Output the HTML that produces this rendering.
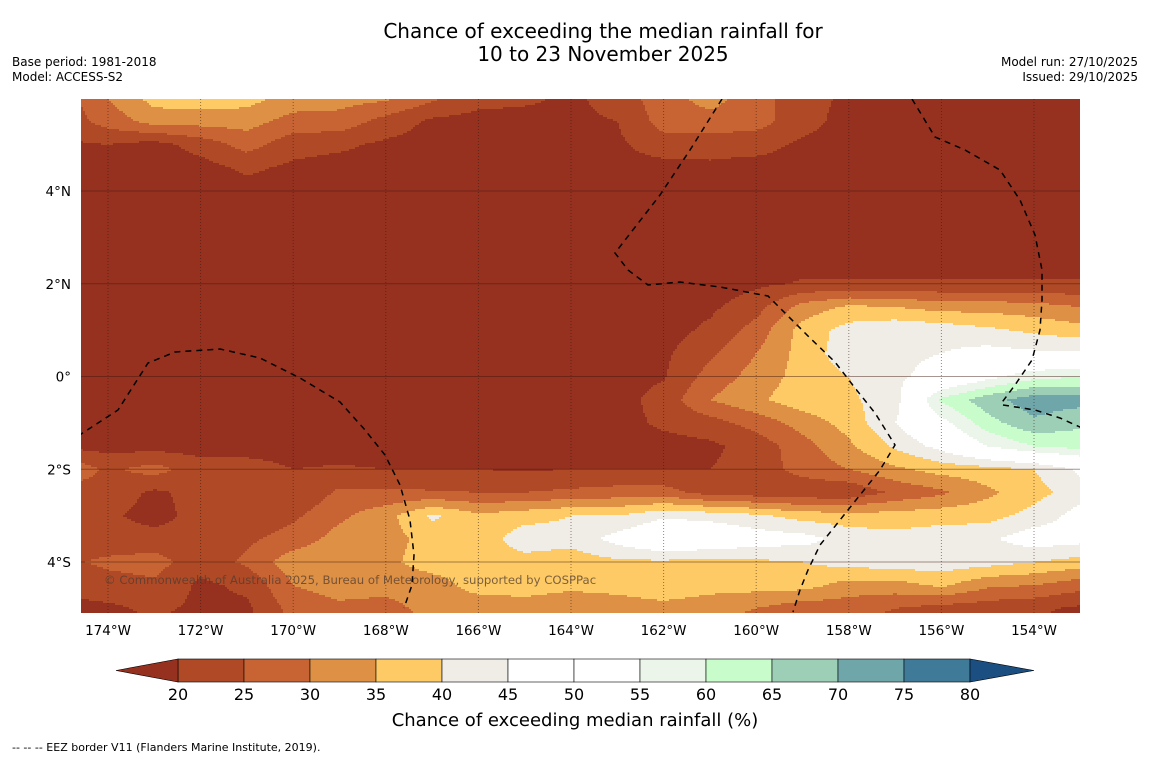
<!DOCTYPE html>
<html><head><meta charset="utf-8"><style>
body{margin:0;background:#fff;font-family:"DejaVu Sans",sans-serif;}
svg text{font-family:"DejaVu Sans","Liberation Sans",sans-serif;}
</style></head><body>
<svg id="chart" width="1150" height="758" viewBox="0 0 1150 758" xmlns="http://www.w3.org/2000/svg">
<rect width="1150" height="758" fill="#fff"/>
<text x="603" y="38" font-size="20" text-anchor="middle">Chance of exceeding the median rainfall for</text>
<text x="603" y="61" font-size="20" text-anchor="middle">10 to 23 November 2025</text>
<text x="12" y="66" font-size="12">Base period: 1981-2018</text>
<text x="12" y="81" font-size="12">Model: ACCESS-S2</text>
<text x="1138" y="66" font-size="12" text-anchor="end">Model run: 27/10/2025</text>
<text x="1138" y="81" font-size="12" text-anchor="end">Issued: 29/10/2025</text>
<defs><clipPath id="plotclip"><rect x="81" y="99" width="999" height="514"/></clipPath></defs>
<g id="field" clip-path="url(#plotclip)"></g>
<g id="grid" clip-path="url(#plotclip)"></g>
<g clip-path="url(#plotclip)" fill="none" stroke="#000" stroke-width="1.5" stroke-dasharray="6,5">
<polyline points="78,436 118,410 148,363 175,352 220,349 260,358 300,378 340,402 365,430 385,455 400,485 410,520 414,555 412,585 404,608"/>
<polyline points="722,99 690,150 660,195 615,253 628,270 648,285 680,282 720,287 768,296 785,313 810,338 835,362 855,388 875,413 895,445 880,470 860,495 840,520 820,545 808,570 800,590 793,612"/>
<polyline points="912,99 935,137 965,150 1000,170 1020,200 1035,235 1042,270 1042,300 1040,330 1032,360 1015,385 1000,405"/>
<polyline points="1003,405 1035,410 1060,418 1082,428"/>
</g>
<text x="104" y="584" font-size="11.7" fill="rgba(80,60,50,0.75)">© Commonwealth of Australia 2025, Bureau of Meteorology, supported by COSPPac</text>
<g id="axes"></g>
<g id="cbar"></g>
<text x="575" y="726" font-size="18" text-anchor="middle">Chance of exceeding median rainfall (%)</text>
<text x="12" y="751" font-size="11">--  --  -- EEZ border V11 (Flanders Marine Institute, 2019).</text>
</svg>
<script>
const lons = [-175,-174,-173,-172,-171,-170,-169,-168,-167,-166,-165,-164,-163,-162,-161,-160,-159,-158,-157,-156,-155,-154,-153];
const lats = [6,5.5,5,4.5,4,3.5,3,2.5,2,1.5,1,0.5,0,-0.5,-1,-1.5,-2,-2.5,-3,-3.5,-4,-4.5,-5,-5.5];
const values = [
[22,30,37,38,37,33,32,31,26,22,21,19,22,28,32,27,22,19,18,18,18,18,18],
[22,27,32,32,32,28,28,23,19,18,18,19,20,27,28,27,22,18,18,18,18,18,18],
[19,20,18,22,27,22,21,19,18,18,18,18,19,23,22,22,19,18,18,18,18,18,18],
[18,18,18,18,21,19,18,18,18,18,18,18,18,18,19,18,18,18,18,18,18,18,18],
[18,18,18,18,18,18,18,18,18,18,18,18,18,18,18,18,18,18,18,18,18,18,18],
[18,18,18,18,18,18,18,18,18,18,18,18,18,18,18,18,18,18,18,18,18,18,18],
[18,18,18,18,18,18,18,18,18,18,18,18,18,18,18,18,18,18,18,18,18,18,18],
[18,18,18,18,18,18,18,18,18,18,18,18,18,18,18,18,18,18,18,18,18,18,18],
[18,18,18,18,18,18,18,18,18,18,18,18,18,18,17,19,20.5,20.5,20.5,20.5,20.5,20.5,20.5],
[18,18,18,18,18,18,18,18,18,18,18,18,18,18,19,23,32,36,35,33,33,32,30],
[18,18,18,18,18,18,18,18,18,18,18,18,18,18,21,27,37,42,44,43,41,39,37],
[18,18,18,18,18,18,18,18,18,18,18,18,18,19,24,30,37,43,44,45,47,46,46],
[18,18,18,18,18,18,18,18,18,18,18,18,18,19.5,27,32,37,40,44,47,53,58,60],
[18,18,18,18,18,18,18,18,18,18,18,18,18,22,30,34,38,39,43,61,68,73,72],
[18,18,18,18,18,18,18,18,18,18,18,18,18,21,23,27,32,37,45,53,63,69,66],
[19,18,18,18,18,18,18,18,18,18,18,18,18,18,19,22,28,34,41,47,55,60,62],
[30,24,27,22,22,20,20.5,20,20,20,19.5,20,20,20,20,22,27,30,34,37,38,40,46],
[22,23,19,22,22,20,26,26,25.5,25,25,26,27,27,23,22,21,21,26,29,34,38,43],
[22,21,18,22,22,24,29,33,41,36,38,40,40,44,43,41,38,37,37,38,38,42,47],
[22,22,22,22,24,27,32,33,37,37,43,42,47,52,51,48,47,43,42,43,44,48,47],
[24,26,27,22,26,33,34,34,37,37,38,37,39,39,38,39,40,42,43,43,42,40,38],
[20,23,24,19,21,30,32,32,33,37,37,36,37,39,37,37,37,33,33,36,31,30,27],
[19,19,21,19,19,27,29,28,32,32,33,32,32,33,32,30,27,27,25,23,22,21,19],
[18,18,19,18,18,25,27,26,29,30,30,30,30,30,29,27,25,24,22,21,20,19,18]
];
const levels = [20,25,30,35,40,45,50,55,60,65,70,75,80];
const levelColors = ['#963120','#B04A26','#C86434','#DE9145','#FDCA65','#F0ECE6','#FFFFFF','#FFFFFF','#EBF5EA','#C8FCCA','#9DCFB7','#6FA6A9','#3F7A99','#1B4F82'];
const lonTicks = [-174,-172,-170,-168,-166,-164,-162,-160,-158,-156,-154];
const latTicks = [4,2,0,-2,-4];
const latTickLabels = ['4°N','2°N','0°','2°S','4°S'];

const NS='http://www.w3.org/2000/svg';
function xOf(lon){return 108+(lon+174)*46.3;}
function yOf(lat){return 376.5-lat*46.375;}
function lonOf(x){return -174+(x-108)/46.3;}
function latOf(y){return (376.5-y)/46.375;}
function classOf(v){let k=0;while(k<levels.length&&v>=levels[k])k++;return k;}
function sample(lon,lat){
  let fi=(lon-lons[0])/(lons[1]-lons[0]);
  let fj=(lat-lats[0])/(lats[1]-lats[0]);
  fi=Math.max(0,Math.min(lons.length-1.0001,fi));
  fj=Math.max(0,Math.min(lats.length-1.0001,fj));
  const i=Math.floor(fi),j=Math.floor(fj),a=fi-i,b=fj-j;
  const v00=values[j][i],v01=values[j][i+1],v10=values[j+1][i],v11=values[j+1][i+1];
  return (v00*(1-a)+v01*a)*(1-b)+(v10*(1-a)+v11*a)*b;
}
const field=document.getElementById('field');
const step=2;
for(let y=99;y<613;y+=step){
  const lat=latOf(y+step/2);
  let runStart=81,runCls=null;
  for(let x=81;x<=1081;x+=step){
    const cls = x<1081 ? classOf(sample(lonOf(x+step/2),lat)) : -1;
    if(runCls===null){runCls=cls;runStart=x;continue;}
    if(cls!==runCls){
      const r=document.createElementNS(NS,'rect');
      
      
      r.setAttribute('x',runStart);r.setAttribute('y',y);
      r.setAttribute('width',x-runStart+0.5);r.setAttribute('height',step+0.5);
      r.setAttribute('fill',levelColors[runCls]);
      field.appendChild(r);
      runCls=cls;runStart=x;
    }
  }
}
const grid=document.getElementById('grid');
latTicks.forEach(function(lat){
  const l=document.createElementNS(NS,'line');
  
  
  l.setAttribute('x1',81);l.setAttribute('x2',1080);l.setAttribute('y1',yOf(lat));l.setAttribute('y2',yOf(lat));
  l.setAttribute('stroke','rgba(60,20,10,0.45)');l.setAttribute('stroke-width','1');
  grid.appendChild(l);
});
lonTicks.forEach(function(lon){
  const l=document.createElementNS(NS,'line');
  
  
  l.setAttribute('x1',xOf(lon));l.setAttribute('x2',xOf(lon));l.setAttribute('y1',99);l.setAttribute('y2',613);
  l.setAttribute('stroke','rgba(40,20,10,0.5)');l.setAttribute('stroke-width','1');l.setAttribute('stroke-dasharray','1,2');
  grid.appendChild(l);
});
const axes=document.getElementById('axes');
lonTicks.forEach(function(lon){
  const t=document.createElementNS(NS,'text');
  
  
  t.setAttribute('x',xOf(lon));t.setAttribute('y',635);t.setAttribute('font-size','13.5');t.setAttribute('text-anchor','middle');
  t.textContent=Math.abs(lon)+'°W';axes.appendChild(t);
});
latTicks.forEach(function(lat,k){
  const t=document.createElementNS(NS,'text');
  
  
  t.setAttribute('x',71);t.setAttribute('y',yOf(lat)+5);t.setAttribute('font-size','13.5');t.setAttribute('text-anchor','end');
  t.textContent=latTickLabels[k];axes.appendChild(t);
});
const cbar=document.getElementById('cbar');
const cx0=178,cw=66,cy=659,ch=23;
for(let k=0;k<levels.length-1;k++){
  const r=document.createElementNS(NS,'rect');
  
  
  r.setAttribute('x',cx0+k*cw);r.setAttribute('y',cy);r.setAttribute('width',cw);r.setAttribute('height',ch);
  r.setAttribute('fill',levelColors[k+1]);r.setAttribute('stroke','#000');r.setAttribute('stroke-width','0.6');
  cbar.appendChild(r);
}
const triL=document.createElementNS(NS,'polygon');


triL.setAttribute('points',(cx0)+','+cy+' '+(cx0)+','+(cy+ch)+' 116,'+(cy+ch/2));
triL.setAttribute('fill',levelColors[0]);triL.setAttribute('stroke','#000');triL.setAttribute('stroke-width','0.6');
cbar.appendChild(triL);
const xe=cx0+(levels.length-1)*cw;
const triR=document.createElementNS(NS,'polygon');


triR.setAttribute('points',xe+','+cy+' '+xe+','+(cy+ch)+' '+(xe+64)+','+(cy+ch/2));
triR.setAttribute('fill',levelColors[levelColors.length-1]);triR.setAttribute('stroke','#000');triR.setAttribute('stroke-width','0.6');
cbar.appendChild(triR);
levels.forEach(function(v,k){
  const t=document.createElementNS(NS,'text');
  
  
  t.setAttribute('x',cx0+k*cw);t.setAttribute('y',700);t.setAttribute('font-size','16');t.setAttribute('text-anchor','middle');
  t.textContent=v;cbar.appendChild(t);
});
</script>
</body></html>
